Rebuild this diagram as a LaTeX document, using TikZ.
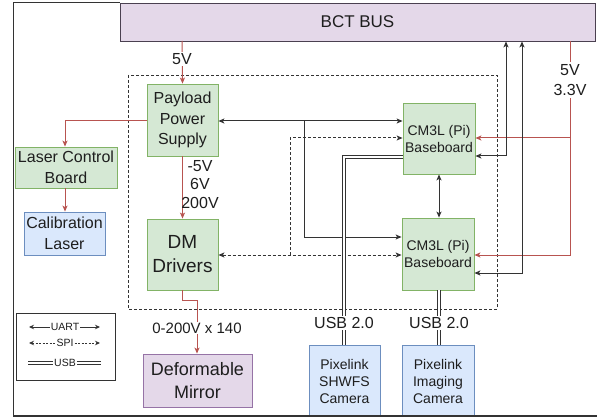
\documentclass[tikz,border=0pt]{standalone}
\usepackage{fontspec}
\setmainfont{Liberation Sans}
\usetikzlibrary{arrows.meta,calc}
\definecolor{gfill}{HTML}{D5E8D4}
\definecolor{gdraw}{HTML}{82B366}
\definecolor{bfill}{HTML}{DAE8FC}
\definecolor{bdraw}{HTML}{6C8EBF}
\definecolor{pfill}{HTML}{E4D8E9}
\definecolor{pdraw}{HTML}{9673A6}
\definecolor{busdraw}{HTML}{4A4050}
\definecolor{pwr}{HTML}{B85450}
\definecolor{ln}{HTML}{333333}
\definecolor{txt}{HTML}{1E1E1E}
\tikzset{
  base/.style={draw, line width=0.8pt, align=center, inner sep=0pt, text=txt, font=\fontsize{16}{20.5}\selectfont},
  gbox/.style={base, fill=gfill, draw=gdraw},
  bbox/.style={base, fill=bfill, draw=bdraw},
  pbox/.style={base, fill=pfill, draw=pdraw},
  tip/.style={-{Stealth[length=6pt,width=5pt,inset=1.5pt]}},
  pline/.style={draw=pwr, line width=1pt, tip},
  uline/.style={draw=ln, line width=1pt},
  sline/.style={draw=ln, line width=1pt, dash pattern=on 3pt off 2pt},
  usb/.style={draw=ln, line width=0.8pt, double=white, double distance=2.6pt},
  lbl/.style={fill=white, inner sep=1pt, text=txt, align=center, font=\fontsize{16}{20}\selectfont},
  both/.style={{Stealth[length=6pt,width=5pt,inset=1.5pt]}-{Stealth[length=6pt,width=5pt,inset=1.5pt]}},
  lgd/.style={text=txt, inner sep=1pt, font=\fontsize{10.5}{12}\selectfont}
}
\begin{document}
\begin{tikzpicture}[x=1pt,y=-1pt]
\useasboundingbox (0,0) rectangle (597,417);
\fill[white] (0,0) rectangle (597,417);
% outer frame
\draw[ln, line width=1pt] (13,3) -- (13,416) -- (600,416);
\draw[ln, line width=1pt] (13,3) -- (120,3);
% dashed region
\draw[ln, line width=0.8pt, dash pattern=on 3pt off 2pt] (128,75) rectangle (497,309);

% nodes
\node[pbox, draw=busdraw, minimum width=475pt, minimum height=38pt, font=\fontsize{17}{20}\selectfont] (bus) at (357.5,22) {BCT BUS};
\node[gbox, minimum width=71pt, minimum height=72pt] (pps) at (182.5,120) {Payload\\Power\\Supply};
\node[gbox, minimum width=102pt, minimum height=41pt] (lcb) at (66,167.5) {Laser Control\\Board};
\node[bbox, minimum width=81pt, minimum height=43pt] (cal) at (64.5,233.5) {Calibration\\Laser};
\node[gbox, minimum width=71pt, minimum height=71pt, font=\fontsize{19}{24}\selectfont] (dmd) at (182.5,254.5) {DM\\Drivers};
\node[gbox, minimum width=72pt, minimum height=71pt, font=\fontsize{14}{17}\selectfont] (cm1) at (439,138.5) {CM3L (Pi)\\Baseboard};
\node[gbox, minimum width=72pt, minimum height=72pt, font=\fontsize{14}{17}\selectfont] (cm2) at (438,254) {CM3L (Pi)\\Baseboard};
\node[pbox, minimum width=109pt, minimum height=53pt, font=\fontsize{18}{23}\selectfont] (dm) at (197.5,380.5) {Deformable\\Mirror};
\node[bbox, minimum width=71pt, minimum height=72pt, font=\fontsize{14}{17}\selectfont] (shw) at (344.5,381) {Pixelink\\SHWFS\\Camera};
\node[bbox, minimum width=72pt, minimum height=72pt, font=\fontsize{14}{17}\selectfont] (img) at (438,381) {Pixelink\\Imaging\\Camera};
% redraw bottom frame over camera boxes
\draw[ln, line width=1.2pt] (13,416) -- (600,416);

% power lines
\coordinate (b5) at (182,41);
\draw[pline] (b5) -- (pps.north);
\node[lbl] (l5v) at (182,59) {5V};
\coordinate (lcbturn) at (65,121);
\draw[pline] (pps.west |- lcbturn) -- (lcbturn) -- (lcb.north -| lcbturn);
\draw[pline] (lcb.south -| lcbturn) -- (cal.north -| lcbturn);
\draw[pline] (pps.south) -- (dmd.north);
\node[text=txt, align=center, inner sep=0pt, font=\fontsize{16}{18.5}\selectfont, anchor=north] (lvolt) at (200,160) {-5V\\6V\\200V};
\coordinate (dmt1) at (182,300);
\coordinate (dmt2) at (197,300);
\draw[pline] (dmd.south -| dmt1) -- (dmt1) -- (dmt2) -- (dm.north -| dmt2);
\node[lbl, font=\fontsize{15}{18}\selectfont] (l200) at (197,328) {0-200V x 140};

\coordinate (rp1) at (570,41);
\coordinate (rp2) at (570,255);
\coordinate (rp3) at (570,138);
\draw[pline] (rp1) -- (rp2) -- (cm2.east |- rp2);
\draw[pline] (rp3) -- (cm1.east |- rp3);
\node[lbl, fill=white, inner sep=2pt] (l33) at (570,80) {5V\\3.3V};

% UART
\coordinate (u1) at (304,121);
\coordinate (u2) at (304,237);
\draw[uline, both] (pps.east |- u1) -- (cm1.west |- u1);
\draw[uline, tip] (u1) -- (u2) -- (cm2.west |- u2);
\draw[uline, both] (cm1.south -| 439,0) -- (cm2.north -| 439,0);
\coordinate (r1) at (506,156);
\coordinate (r2) at (522,273);
\draw[uline, both] (cm1.east |- r1) -- (r1) -- (r1 |- bus.south);
\draw[uline, both] (cm2.east |- r2) -- (r2) -- (r2 |- bus.south);

% SPI
\coordinate (s1) at (290,255);
\coordinate (s2) at (290,138);
\draw[sline, both] (dmd.east |- s1) -- (cm2.west |- s1);
\draw[sline, tip] (s1) -- (s2) -- (cm1.west |- s2);

% USB
\coordinate (ub1) at (344,157);
\draw[usb] (cm1.west |- ub1) -- (ub1) -- (shw.north -| ub1);
\node[lbl] (lusb1) at (344,323) {USB 2.0};
\draw[usb] (cm2.south -| 439,0) -- (img.north -| 439,0);
\node[lbl] (lusb2) at (439,323) {USB 2.0};

% legend
\node[draw=ln, line width=0.8pt, minimum width=99pt, minimum height=67pt, inner sep=0pt] (leg) at (65.5,346.5) {};
\node[lgd] (tu) at (65,327) {UART};
\node[lgd] (ts) at (65,343) {SPI};
\node[lgd] (tb) at (65,363) {USB};
\draw[uline, line width=0.9pt, {Stealth[length=5pt,width=4.5pt]}-] (29,327) -- (tu.west);
\draw[uline, line width=0.9pt, -{Stealth[length=5pt,width=4.5pt]}] (tu.east) -- (100,327);
\draw[sline, line width=0.9pt, dash pattern=on 2pt off 1.5pt, {Stealth[length=5pt,width=4.5pt]}-] (29,343) -- (ts.west);
\draw[sline, line width=0.9pt, dash pattern=on 2pt off 1.5pt, -{Stealth[length=5pt,width=4.5pt]}] (ts.east) -- (100,343);
\draw[usb, line width=0.8pt, double distance=2.2pt] (28,363) -- (tb.west);
\draw[usb, line width=0.8pt, double distance=2.2pt] (tb.east) -- (101,363);
\end{tikzpicture}
\end{document}
